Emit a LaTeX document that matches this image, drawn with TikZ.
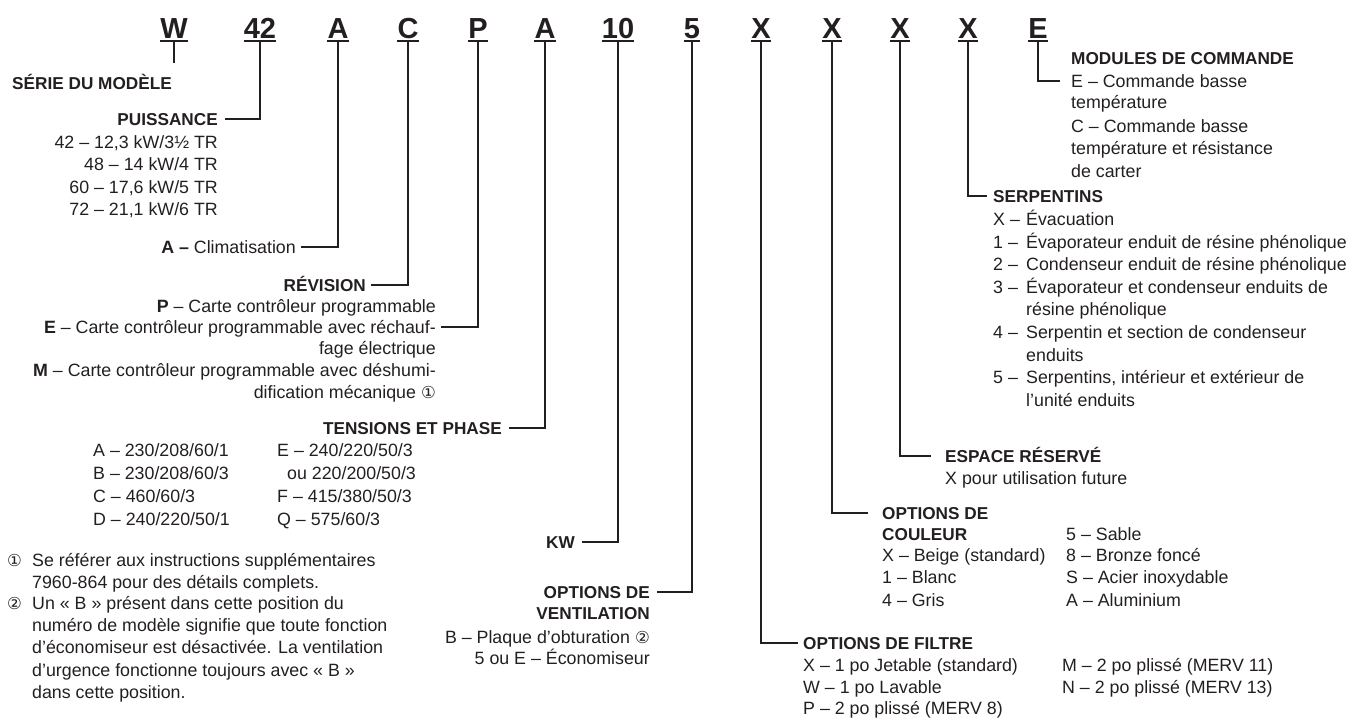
\documentclass[tikz,border=0pt]{standalone}
\usepackage{fontspec}
\setmainfont{Liberation Sans}
\newfontfamily\symf{DejaVu Sans}
\definecolor{ink}{HTML}{231F20}
\newcommand\fnone{{\symf\fontsize{16.5}{16.5}\selectfont ①}}
\newcommand\fntwo{{\symf\fontsize{16.5}{16.5}\selectfont ②}}
\begin{document}
\begin{tikzpicture}[x=1pt,y=-1pt,
  hdr/.style={font=\fontsize{29}{29}\selectfont\bfseries, inner xsep=0pt, inner ysep=3pt, text depth=0pt, anchor=base, text=ink},
  txt/.style={font=\fontsize{17.8}{22}\selectfont, inner sep=0pt, text height=12.7pt, text depth=0pt, text=ink},
  hd/.style={txt, font=\fontsize{17.2}{22}\selectfont\bfseries},
  conn/.style={draw=ink, line width=2.3pt, shorten >=7pt},
  ul/.style={draw=ink, line width=2pt}]
\useasboundingbox (0,0) rectangle (1356,718);

% header
\node[hdr] (hW) at (174,38) {W};
\node[hdr] (h42) at (260,38) {42};
\node[hdr] (hA) at (338,38) {A};
\node[hdr] (hC) at (408,38) {C};
\node[hdr] (hP) at (478,38) {P};
\node[hdr] (hA2) at (545,38) {A};
\node[hdr] (h10) at (618,38) {10};
\node[hdr] (h5) at (692,38) {5};
\node[hdr] (hX1) at (761,38) {X};
\node[hdr] (hX2) at (832,38) {X};
\node[hdr] (hX3) at (900,38) {X};
\node[hdr] (hX4) at (968,38) {X};
\node[hdr] (hE) at (1038,38) {E};
\foreach \n in {hW,h42,hA,hC,hP,hA2,h10,h5,hX1,hX2,hX3,hX4,hE}
  \draw[ul] (\n.south west) -- (\n.south east);

% serie
\node[hd, anchor=base west] (serie) at (12,89) {SÉRIE DU MODÈLE};
\coordinate (wend) at (174,63);

% puissance
\node[hd, anchor=base east] (puis) at (218,125) {PUISSANCE};
\node[txt, anchor=base east] (p42) at (218,148) {42 – 12,3 kW/3½ TR};
\node[txt, anchor=base east] (p48) at (218,170) {48 – 14 kW/4 TR};
\node[txt, anchor=base east] (p60) at (218,193) {60 – 17,6 kW/5 TR};
\node[txt, anchor=base east] (p72) at (218,215) {72 – 21,1 kW/6 TR};

\node[txt, anchor=base east] (clim) at (296,253) {\textbf{A –} Climatisation};

% revision
\node[hd, anchor=base east] (rev) at (366,291) {RÉVISION};
\node[txt, anchor=base east] (revP) at (436,312) {\textbf{P} – Carte contrôleur programmable};
\node[txt, anchor=base east] (revE) at (436,333) {\textbf{E} – Carte contrôleur programmable avec réchauf-};
\node[txt, anchor=base east] (revE2) at (436,354) {fage électrique};
\node[txt, anchor=base east] (revM) at (436,376) {\textbf{M} – Carte contrôleur programmable avec déshumi-};
\node[txt, anchor=base east] (revM2) at (436,398) {dification mécanique \fnone};

% tensions
\node[hd, anchor=base east] (tens) at (502,434) {TENSIONS ET PHASE};
\node[txt, anchor=base west] (tA) at (93,456) {A – 230/208/60/1};
\node[txt, anchor=base west] (tB) at (93,479) {B – 230/208/60/3};
\node[txt, anchor=base west] (tC) at (93,502) {C – 460/60/3};
\node[txt, anchor=base west] (tD) at (93,525) {D – 240/220/50/1};
\node[txt, anchor=base west] (tE) at (277,456) {E – 240/220/50/3};
\node[txt, anchor=base west] (tE2) at (287,479) {ou 220/200/50/3};
\node[txt, anchor=base west] (tF) at (277,502) {F – 415/380/50/3};
\node[txt, anchor=base west] (tQ) at (277,525) {Q – 575/60/3};

% footnotes
\node[txt, anchor=base west] (fn1) at (7,566) {\fnone};
\node[txt, anchor=base west] (fn1a) at (32,566) {Se référer aux instructions supplémentaires};
\node[txt, anchor=base west] (fn1b) at (32,588) {7960-864 pour des détails complets.};
\node[txt, anchor=base west] (fn2) at (7,609) {\fntwo};
\node[txt, anchor=base west] (fn2a) at (32,609) {Un «~B~» présent dans cette position du};
\node[txt, anchor=base west] (fn2b) at (32,631) {numéro de modèle signifie que toute fonction};
\node[txt, anchor=base west] (fn2c) at (32,653) {d’économiseur est désactivée. La ventilation};
\node[txt, anchor=base west] (fn2d) at (32,676) {d’urgence fonctionne toujours avec «~B~»};
\node[txt, anchor=base west] (fn2e) at (32,698) {dans cette position.};

% kw and ventilation
\node[hd, anchor=base east] (kw) at (575,548) {KW};
\node[hd, anchor=base east] (vent1) at (650,598) {OPTIONS DE};
\node[hd, anchor=base east] (vent2) at (650,619) {VENTILATION};
\node[txt, anchor=base east] (vent3) at (650,643) {B – Plaque d’obturation \fntwo};
\node[txt, anchor=base east] (vent4) at (650,664) {5 ou E – Économiseur};

% filtre
\node[hd, anchor=base west] (filt) at (803,649) {OPTIONS DE FILTRE};
\node[txt, anchor=base west] (fX) at (803,671) {X – 1 po Jetable (standard)};
\node[txt, anchor=base west] (fW) at (803,693) {W – 1 po Lavable};
\node[txt, anchor=base west] (fP) at (803,714) {P – 2 po plissé (MERV 8)};
\node[txt, anchor=base west] (fM) at (1062,671) {M – 2 po plissé (MERV 11)};
\node[txt, anchor=base west] (fN) at (1062,693) {N – 2 po plissé (MERV 13)};

% couleur
\node[hd, anchor=base west] (coul1) at (882,519) {OPTIONS DE};
\node[hd, anchor=base west] (coul2) at (882,540) {COULEUR};
\node[txt, anchor=base west] (cX) at (882,561) {X – Beige (standard)};
\node[txt, anchor=base west] (c1) at (882,583) {1 – Blanc};
\node[txt, anchor=base west] (c4) at (882,606) {4 – Gris};
\node[txt, anchor=base west] (c5) at (1066,540) {5 – Sable};
\node[txt, anchor=base west] (c8) at (1066,561) {8 – Bronze foncé};
\node[txt, anchor=base west] (cS) at (1066,583) {S – Acier inoxydable};
\node[txt, anchor=base west] (cA) at (1066,606) {A – Aluminium};

% espace
\node[hd, anchor=base west] (esp) at (945,462) {ESPACE RÉSERVÉ};
\node[txt, anchor=base west] (esp2) at (945,484) {X pour utilisation future};

% serpentins
\node[hd, anchor=base west] (serp) at (993,202) {SERPENTINS};
\node[txt, anchor=base west] (sXn) at (993,225) {X –};
\node[txt, anchor=base west] (sX) at (1026,225) {Évacuation};
\node[txt, anchor=base west] (s1n) at (993,248) {1 –};
\node[txt, anchor=base west] (s1) at (1026,248) {Évaporateur enduit de résine phénolique};
\node[txt, anchor=base west] (s2n) at (993,270) {2 –};
\node[txt, anchor=base west] (s2) at (1026,270) {Condenseur enduit de résine phénolique};
\node[txt, anchor=base west] (s3n) at (993,293) {3 –};
\node[txt, anchor=base west] (s3) at (1026,293) {Évaporateur et condenseur enduits de};
\node[txt, anchor=base west] (s3b) at (1026,315) {résine phénolique};
\node[txt, anchor=base west] (s4n) at (993,338) {4 –};
\node[txt, anchor=base west] (s4) at (1026,338) {Serpentin et section de condenseur};
\node[txt, anchor=base west] (s4b) at (1026,361) {enduits};
\node[txt, anchor=base west] (s5n) at (993,383) {5 –};
\node[txt, anchor=base west] (s5) at (1026,383) {Serpentins, intérieur et extérieur de};
\node[txt, anchor=base west] (s5b) at (1026,406) {l’unité enduits};

% modules
\node[hd, anchor=base west] (mod) at (1071,64) {MODULES DE COMMANDE};
\node[txt, anchor=base west] (mE) at (1071,87) {E – Commande basse};
\node[txt, anchor=base west] (mE2) at (1071,108) {température};
\node[txt, anchor=base west] (mC) at (1071,132) {C – Commande basse};
\node[txt, anchor=base west] (mC2) at (1071,154) {température et résistance};
\node[txt, anchor=base west] (mC3) at (1071,177) {de carter};

% connectors
\draw[conn, shorten >=0pt] (hW) -- (wend);
\draw[conn] (h42) |- (puis);
\draw[conn, shorten >=5pt] (hA) |- (clim);
\draw[conn, shorten >=5pt] (hC) |- (rev);
\draw[conn, shorten >=5pt] (hP) |- (revE);
\draw[conn] (hA2) |- (tens);
\draw[conn] (h10) |- (kw);
\draw[conn] (h5) |- (vent1);
\draw[conn, shorten >=5pt] (hX1) |- (filt);
\draw[conn, shorten >=14pt] (hX2) |- (coul1);
\draw[conn, shorten >=14pt] (hX3) |- (esp);
\draw[conn, shorten >=6pt] (hX4) |- (serp);
\draw[conn, shorten >=11pt] (hE) |- (mE);
\end{tikzpicture}
\end{document}
